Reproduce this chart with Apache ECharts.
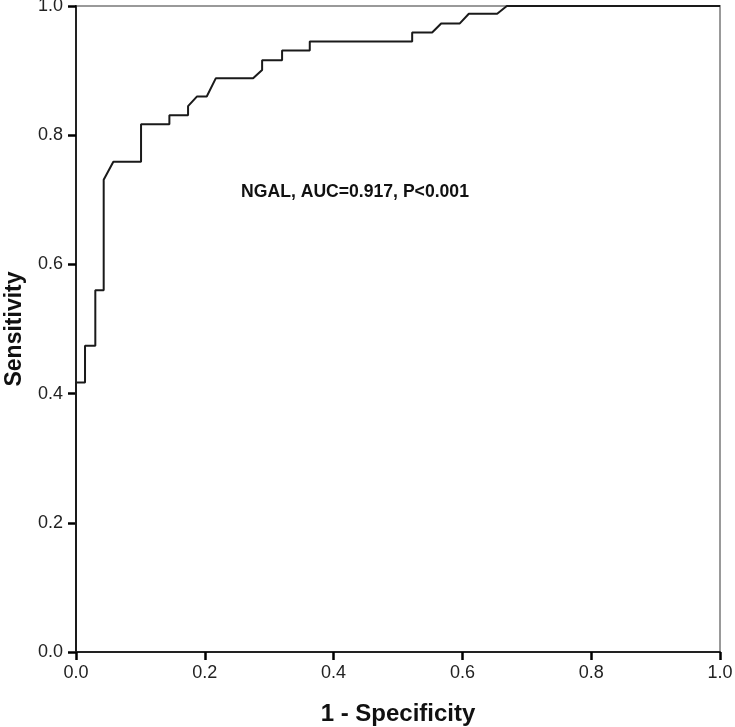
<!DOCTYPE html>
<html>
<head>
<meta charset="utf-8">
<script src="https://cdn.jsdelivr.net/npm/echarts@6/dist/echarts.min.js"></script>
<style>
html,body{margin:0;padding:0;background:#fff;}
#chart{width:735px;height:727px;}
</style>
</head>
<body>
<div id="chart"></div>
<script>
// ROC curve vertices: 1 - Specificity (x) and Sensitivity (y)
const fpr = [0, 0, 0.014, 0.014, 0.03, 0.03, 0.043, 0.043, 0.058, 0.101, 0.101, 0.145, 0.145, 0.174, 0.174, 0.188, 0.203, 0.217, 0.275, 0.289, 0.289, 0.32, 0.32, 0.363, 0.363, 0.522, 0.522, 0.553, 0.567, 0.596, 0.61, 0.654, 0.669, 1.0];
const tpr = [0, 0.417, 0.417, 0.474, 0.474, 0.56, 0.56, 0.731, 0.759, 0.759, 0.817, 0.817, 0.831, 0.831, 0.845, 0.86, 0.86, 0.888, 0.888, 0.901, 0.916, 0.916, 0.931, 0.931, 0.945, 0.945, 0.959, 0.959, 0.973, 0.973, 0.988, 0.988, 1.0, 1.0];
const xTicks = [0, 0.2, 0.4, 0.6, 0.8, 1.0];
const yTicks = [0, 0.2, 0.4, 0.6, 0.8, 1.0];
const annotation = 'NGAL, AUC=0.917, P<0.001';
const xTitle = '1 - Specificity';
const yTitle = 'Sensitivity';

const chart = echarts.init(document.getElementById('chart'), null, {renderer: 'canvas'});
const font = 'Arial, "Liberation Sans", sans-serif';
const labelStyle = {color: '#222', fontSize: 18, fontFamily: font,
  formatter: v => v.toFixed(1)};

chart.setOption({
  animation: false,
  backgroundColor: '#fff',
  grid: {left: 76, right: 15, top: 6, bottom: 75, show: true,
    outerBoundsMode: 'none', containLabel: false,
    borderColor: '#999', borderWidth: 2, backgroundColor: 'transparent'},
  xAxis: {
    type: 'value', min: 0, max: 1, interval: 0.2,
    name: xTitle, nameLocation: 'middle', nameGap: 50,
    nameTextStyle: {fontSize: 24, fontWeight: 'bold', color: '#111', fontFamily: font},
    axisLine: {show: true, onZero: false, lineStyle: {color: '#222', width: 2}},
    axisTick: {show: true, inside: false, length: 8, lineStyle: {color: '#000', width: 2.5, opacity: 1, type: 'solid'}},
    axisLabel: Object.assign({margin: 12}, labelStyle),
    splitLine: {show: false}
  },
  yAxis: {
    type: 'value', min: 0, max: 1, interval: 0.2,
    name: yTitle, nameLocation: 'middle', nameGap: 50, nameRotate: 90,
    nameTextStyle: {fontSize: 23, fontWeight: 'bold', color: '#111', fontFamily: font},
    axisLine: {show: true, onZero: false, lineStyle: {color: '#222', width: 2}},
    axisTick: {show: true, inside: false, length: 8, lineStyle: {color: '#000', width: 2.5, opacity: 1, type: 'solid'}},
    axisLabel: Object.assign({margin: 13}, labelStyle),
    splitLine: {show: false}
  },
  series: [{
    type: 'line',
    data: fpr.map((x, i) => [x, tpr[i]]),
    showSymbol: false,
    symbol: 'none',
    lineStyle: {color: '#1a1a1a', width: 2},
    z: 5
  }],
  graphic: [{
    type: 'text',
    x: 355, y: 192,
    style: {text: annotation, fontSize: 17.6, fontWeight: 'bold', fontFamily: font,
      fill: '#111', textAlign: 'center', textVerticalAlign: 'middle'}
  }]
});
</script>
</body>
</html>
